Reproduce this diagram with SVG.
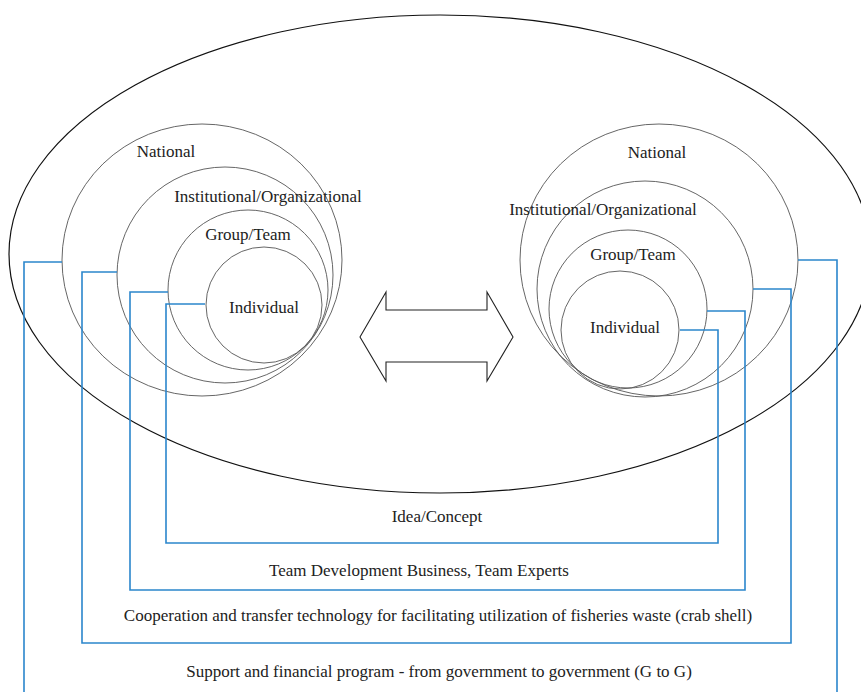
<svg xmlns="http://www.w3.org/2000/svg" width="861" height="692" viewBox="0 0 861 692">
<style>
.t{font-family:"Liberation Serif","Times New Roman",serif;font-size:17px;fill:#222;text-anchor:middle}
.c{fill:none;stroke:#555;stroke-width:0.9}
.big{fill:none;stroke:#111;stroke-width:1.2}
.conn{fill:none;stroke:#2b86cc;stroke-width:1.6}
.arr{fill:#fff;stroke:#222;stroke-width:1.1}
</style>
<rect width="861" height="692" fill="#fff"/>
<g id="outer"><ellipse class="big" cx="440" cy="254" rx="431" ry="239"/></g>
<g id="left-national"><ellipse class="c" cx="202" cy="260" rx="140" ry="136"/><text class="t" x="166" y="157">National</text></g>
<g id="left-institutional"><circle class="c" cx="225" cy="275" r="108"/><text class="t" x="268" y="202">Institutional/Organizational</text></g>
<g id="left-group"><circle class="c" cx="248" cy="290" r="80"/><text class="t" x="248" y="240">Group/Team</text></g>
<g id="left-individual"><circle class="c" cx="264" cy="305" r="58"/><text class="t" x="264" y="313">Individual</text></g>
<g id="right-national"><ellipse class="c" cx="659" cy="260" rx="139" ry="136"/><text class="t" x="657" y="158">National</text></g>
<g id="right-institutional"><circle class="c" cx="645" cy="289" r="108"/><text class="t" x="603" y="215">Institutional/Organizational</text></g>
<g id="right-group"><circle class="c" cx="628" cy="309" r="79"/><text class="t" x="633" y="260">Group/Team</text></g>
<g id="right-individual"><circle class="c" cx="620" cy="330" r="59"/><text class="t" x="625" y="333">Individual</text></g>
<g id="double-arrow"><polygon class="arr" points="360,337 386,292 386,310 487,310 487,292 513,337 487,381 487,362 386,362 386,381"/></g>
<g id="connectors">
<polyline class="conn" points="62,262 24,262 24,700"/>
<polyline class="conn" points="798,260 837,260 837,700"/>
<polyline class="conn" points="117,272 82,272 82,643 791,643 791,289 753,289"/>
<polyline class="conn" points="168,292 130,292 130,590 745,590 745,311 707,311"/>
<polyline class="conn" points="205,304 166,304 166,543 718,543 718,330 680,330"/>
</g>
<g id="labels">
<text class="t" x="437" y="522">Idea/Concept</text>
<text class="t" x="419" y="576">Team Development Business, Team Experts</text>
<text class="t" x="438" y="621">Cooperation and transfer technology for facilitating utilization of fisheries waste (crab shell)</text>
<text class="t" x="439" y="677">Support and financial program - from government to government (G to G)</text>
</g>
</svg>
